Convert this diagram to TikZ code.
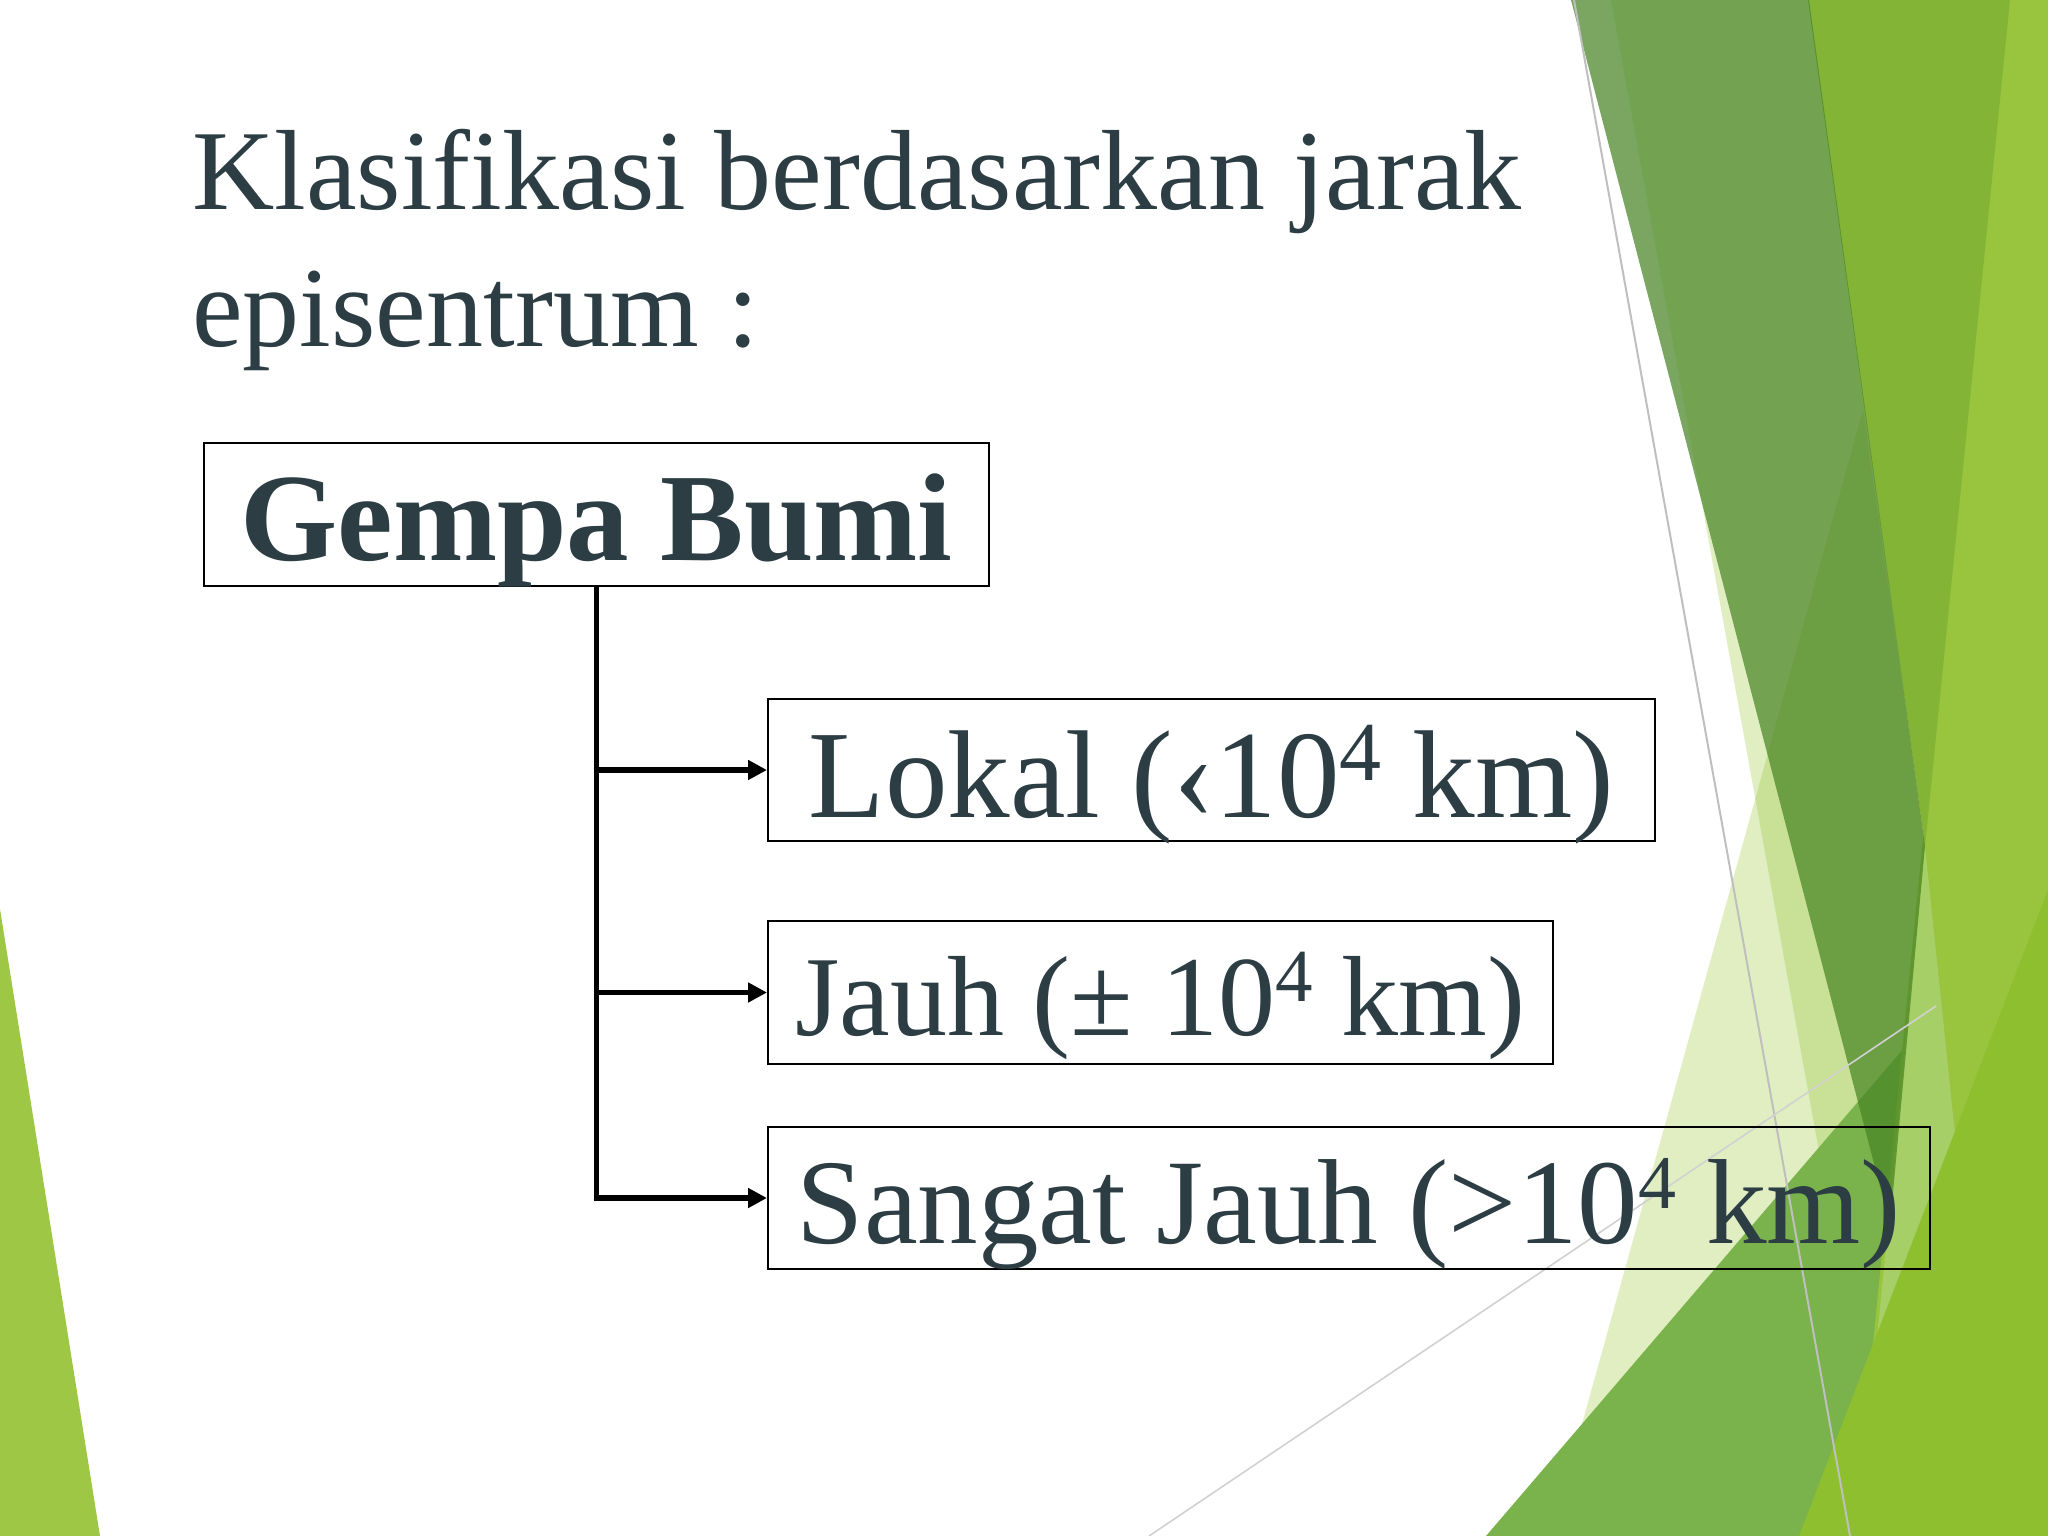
\documentclass[tikz,border=0pt]{standalone}
\usepackage{fontspec}
\setmainfont{Liberation Serif}[Ligatures={TeX,NoCommon}]
\usetikzlibrary{arrows.meta}
\definecolor{txt}{HTML}{2C3D44}
\definecolor{accent}{RGB}{144,194,38}
\definecolor{darkband}{RGB}{73,133,37}
\definecolor{lefttri}{HTML}{9FC746}
\definecolor{midgreen}{HTML}{7AB24C}
\definecolor{stripgreen}{HTML}{99C43D}
\definecolor{bandgreen}{HTML}{84B435}
\definecolor{palegreen}{HTML}{A6CF68}
\definecolor{brightgreen}{HTML}{8DBF2E}
\newcommand\supx[3]{\raisebox{#2pt}{\fontsize{#1}{#1}\selectfont #3}}
\tikzset{
  box/.style={draw=black, line width=2pt, inner sep=0pt, text=txt, align=center},
  conn/.style={draw=black, line width=5.5pt},
  arr/.style={-{Triangle[length=19pt,width=19pt]}},
  titletext/.style={anchor=base west, inner sep=0pt, text=txt, font=\fontsize{114}{137}\selectfont},
  gline/.style={draw=black!25, line width=2pt},
  gline2/.style={draw=black!18, line width=1.6pt}
}
\begin{document}
\begin{tikzpicture}[x=1pt,y=-1pt]
\useasboundingbox (0,0) rectangle (2048,1536);
\fill[white] (0,0) rectangle (2048,1536);
% background facets
\fill[lefttri] (0,909) -- (100,1536) -- (0,1536) -- cycle;
\fill[accent, opacity=0.28] (1863,410) -- (1551,1536) -- (1890,1536) -- (1925,846) -- cycle;
\fill[accent, opacity=0.28] (1611,0) -- (1900,0) -- (1925,846) -- (1890,1225) -- (1820,1157) -- cycle;
\fill[midgreen] (1486,1536) -- (2048,880) -- (2048,1536) -- cycle;
\fill[stripgreen] (2006,0) -- (2048,0) -- (2048,1536) -- (1854,1536) -- cycle;
\fill[bandgreen] (1808,0) -- (2010,0) -- (1925,846) -- cycle;
\fill[palegreen] (1925,846) -- (1965,1230) -- (1869,1420) -- cycle;
\fill[brightgreen] (1799,1536) -- (2048,890) -- (2048,1536) -- cycle;
\fill[darkband, opacity=0.72] (1571,0) -- (1809,0) -- (1925,846) -- (1890,1225) -- cycle;
\draw[gline] (1574,0) -- (1850,1536);
\draw[gline2] (1149,1536) -- (1936,1006);
% title
\node[titletext] (title1) at (192,209) {Klasifikasi berdasarkan jarak};
\node[titletext] (title2) at (192,346) {episentrum :};
% boxes
\node[box, minimum width=785pt, minimum height=143pt, text height=101pt, text depth=10pt,
      font=\fontsize{125}{125}\selectfont\bfseries] (gempa) at (596.5,514.5) {Gempa Bumi};
\node[box, minimum width=887pt, minimum height=142pt, text height=104pt, text depth=10pt,
      font=\fontsize{125}{125}\selectfont] (lokal) at (1211.5,770) {Lokal (‹10\supx{84}{37}{4} km)};
\node[box, minimum width=785pt, minimum height=143pt, text height=95pt, text depth=10pt,
      font=\fontsize{114}{114}\selectfont] (jauh) at (1160.5,992.5) {Jauh (± 10\supx{75}{34}{4} km)};
\node[box, minimum width=1162pt, minimum height=142pt, text height=100pt, text depth=10pt,
      font=\fontsize{121}{121}\selectfont] (sangat) at (1349,1198) {Sangat Jauh (>10\supx{76}{35}{4} km)};
% connectors
\draw[conn, arr] (gempa.south) -- (gempa.south |- sangat.west) -- (sangat.west);
\draw[conn, arr] (gempa.south |- lokal.west) -- (lokal.west);
\draw[conn, arr] (gempa.south |- jauh.west) -- (jauh.west);
\end{tikzpicture}
\end{document}
